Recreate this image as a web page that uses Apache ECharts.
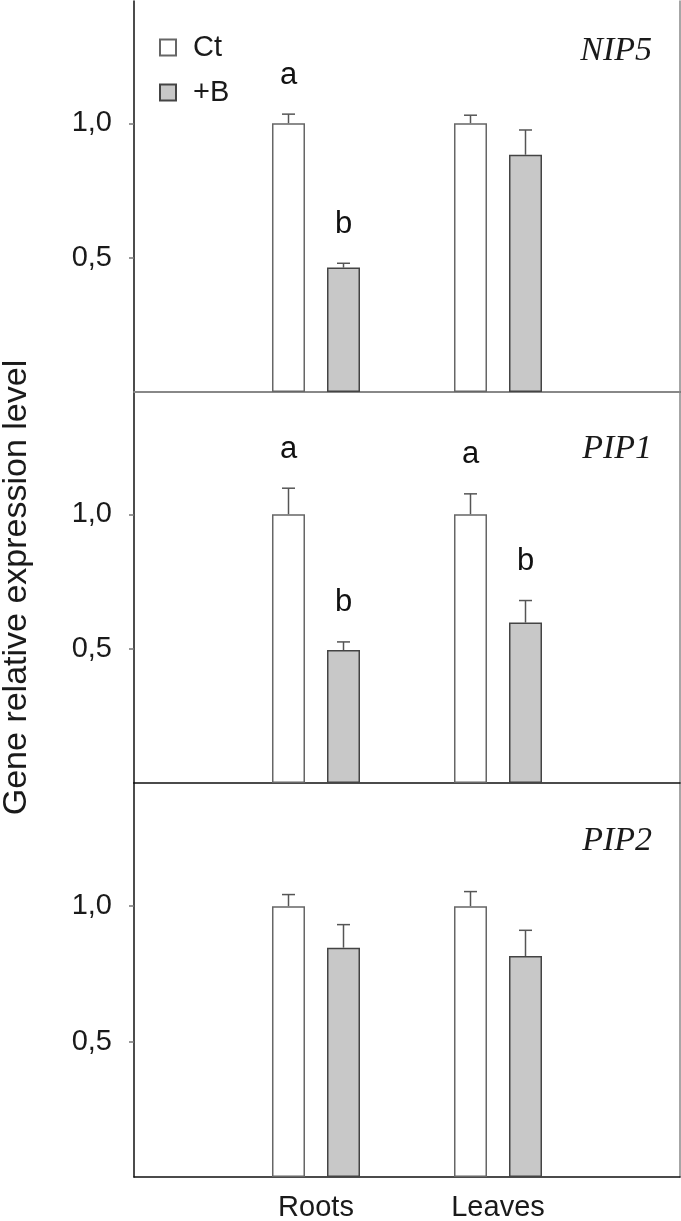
<!DOCTYPE html>
<html>
<head>
<meta charset="utf-8">
<script src="https://cdn.jsdelivr.net/npm/echarts@6/dist/echarts.min.js"></script>
<style>
html,body{margin:0;padding:0;background:#fff;}
#chart{width:681px;height:1221px;}
</style>
</head>
<body>
<div id="chart"></div>
<script>
// ---- data ----
const categories = ['Roots', 'Leaves'];
const genes = ['NIP5', 'PIP1', 'PIP2'];
const seriesNames = ['Ct', '+B'];
const yTicks = [0.5, 1.0];

const ctNIP5 = [1.0, 1.0];
const ctErrNIP5 = [0.034, 0.030];
const bNIP5 = [0.463, 0.883];
const bErrNIP5 = [0.016, 0.092];
const ctLettersNIP5 = ['a', ''];
const bLettersNIP5 = ['b', ''];

const ctPIP1 = [1.0, 1.0];
const ctErrPIP1 = [0.097, 0.076];
const bPIP1 = [0.495, 0.597];
const bErrPIP1 = [0.030, 0.082];
const ctLettersPIP1 = ['a', 'a'];
const bLettersPIP1 = ['b', 'b'];

const ctPIP2 = [1.0, 1.0];
const ctErrPIP2 = [0.043, 0.054];
const bPIP2 = [0.847, 0.816];
const bErrPIP2 = [0.085, 0.095];
const ctLettersPIP2 = ['', ''];
const bLettersPIP2 = ['', ''];

// ---- layout / style ----
const FONT = '"Liberation Sans", Arial, sans-serif';
const BAR_W = 33, BAR_GAP = 22;
const Y_MAX = 1.455;
const LETTER_GAP = 39;
const fills = ['#ffffff', '#c8c8c8'];
const borders = ['#666666', '#444444'];

const panels = [
  {gene: genes[0], vals: [ctNIP5, bNIP5], errs: [ctErrNIP5, bErrNIP5], letters: [ctLettersNIP5, bLettersNIP5]},
  {gene: genes[1], vals: [ctPIP1, bPIP1], errs: [ctErrPIP1, bErrPIP1], letters: [ctLettersPIP1, bLettersPIP1]},
  {gene: genes[2], vals: [ctPIP2, bPIP2], errs: [ctErrPIP2, bErrPIP2], letters: [ctLettersPIP2, bLettersPIP2]}
];
const gridBoxes = [
  {left: 134, width: 546, top: 1, height: 391, outerBoundsMode: 'none', containLabel: false},
  {left: 134, width: 546, top: 392, height: 391, outerBoundsMode: 'none', containLabel: false},
  {left: 134, width: 546, top: 783, height: 394, outerBoundsMode: 'none', containLabel: false}
];
const titleTops = [29, 427, 819];

const axisCats = [''].concat(categories, ['']);

const xAxes = [], yAxes = [], series = [], titles = [];
panels.forEach((p, i) => {
  xAxes.push({
    gridIndex: i, type: 'category', data: axisCats, boundaryGap: false,
    axisLine: {show: true, lineStyle: {color: '#111', width: 1.5}},
    axisTick: {show: false},
    axisLabel: {show: i === 2, interval: 0, margin: 16, fontSize: 29, fontFamily: FONT, color: '#1a1a1a'},
    splitLine: {show: false}
  });
  yAxes.push({
    gridIndex: i, type: 'value', min: 0, max: Y_MAX,
    axisLine: {show: true, lineStyle: {color: '#111', width: 1.5}},
    axisTick: {show: true, inside: false, length: 5, customValues: yTicks, lineStyle: {color: '#777', width: 1.5}},
    axisLabel: {show: true, customValues: yTicks, margin: 22, fontSize: 29, fontFamily: FONT, color: '#1a1a1a',
      formatter: v => v.toFixed(1).replace('.', ',')},
    splitLine: {show: false},
    name: i === 1 ? 'Gene relative expression level' : '',
    nameLocation: 'middle', nameGap: 100,
    nameTextStyle: {fontSize: 34, fontFamily: FONT, color: '#1a1a1a'}
  });
  titles.push({
    text: p.gene, right: 24, top: titleTops[i],
    textStyle: {fontFamily: '"Liberation Serif", "Times New Roman", serif', fontStyle: 'italic', fontWeight: 'normal', fontSize: 34, color: '#1a1a1a'}
  });
});
// border axes (right side of every panel, top of first panel)
panels.forEach((p, i) => {
  yAxes.push({
    gridIndex: i, type: 'value', min: 0, max: Y_MAX, position: 'right',
    axisLine: {show: true, lineStyle: {color: '#888', width: 1.5}},
    axisTick: {show: false}, axisLabel: {show: false}, splitLine: {show: false}
  });
});
xAxes.push({
  gridIndex: 0, type: 'category', data: axisCats, boundaryGap: false, position: 'top',
  axisLine: {show: true, lineStyle: {color: '#888', width: 2}},
  axisTick: {show: false}, axisLabel: {show: false}, splitLine: {show: false}
});

const offsets = [-(BAR_W + BAR_GAP) / 2, (BAR_W + BAR_GAP) / 2];

panels.forEach((p, i) => {
  [0, 1].forEach(s => {
    series.push({
      name: seriesNames[s], type: 'bar', xAxisIndex: i, yAxisIndex: i,
      data: ['-'].concat(p.vals[s], ['-']),
      barWidth: BAR_W, barGap: (BAR_GAP / BAR_W * 100).toFixed(2) + '%',
      itemStyle: {color: fills[s], borderColor: borders[s], borderWidth: 1.5},
      silent: true
    });
  });
  [0, 1].forEach(s => {
    const letters = p.letters[s];
    series.push({
      type: 'custom', xAxisIndex: i, yAxisIndex: i, silent: true, clip: false,
      data: p.vals[s].map((v, k) => [k + 1, v, p.errs[s][k]]),
      encode: {x: 0, y: 1},
      renderItem: (params, api) => {
        const c = api.value(0), v = api.value(1), e = api.value(2);
        const base = api.coord([c, v]);
        const top = api.coord([c, v + e]);
        const x = base[0] + offsets[s];
        const children = [
          {type: 'line', shape: {x1: x, y1: base[1], x2: x, y2: top[1]}, style: {stroke: '#555', lineWidth: 1.5}},
          {type: 'line', shape: {x1: x - 6.5, y1: top[1], x2: x + 6.5, y2: top[1]}, style: {stroke: '#555', lineWidth: 1.5}}
        ];
        const L = letters[params.dataIndex];
        if (L) {
          children.push({type: 'text', style: {text: L, x: x, y: top[1] - LETTER_GAP, align: 'center', verticalAlign: 'middle',
            fontSize: 31, fontFamily: FONT, fill: '#111'}});
        }
        return {type: 'group', children: children};
      }
    });
  });
});

const chart = echarts.init(document.getElementById('chart'), null, {renderer: 'canvas'});
chart.setOption({
  animation: false,
  backgroundColor: '#fff',
  title: titles,
  legend: {
    data: seriesNames, orient: 'vertical', left: 159, top: 33, padding: 0,
    itemWidth: 16, itemHeight: 16, itemGap: 16, icon: 'rect',
    textStyle: {fontSize: 29, fontFamily: FONT, color: '#1a1a1a', lineHeight: 29, padding: [0, 0, 0, 12]}
  },
  grid: gridBoxes,
  xAxis: xAxes,
  yAxis: yAxes,
  series: series
});
</script>
</body>
</html>
